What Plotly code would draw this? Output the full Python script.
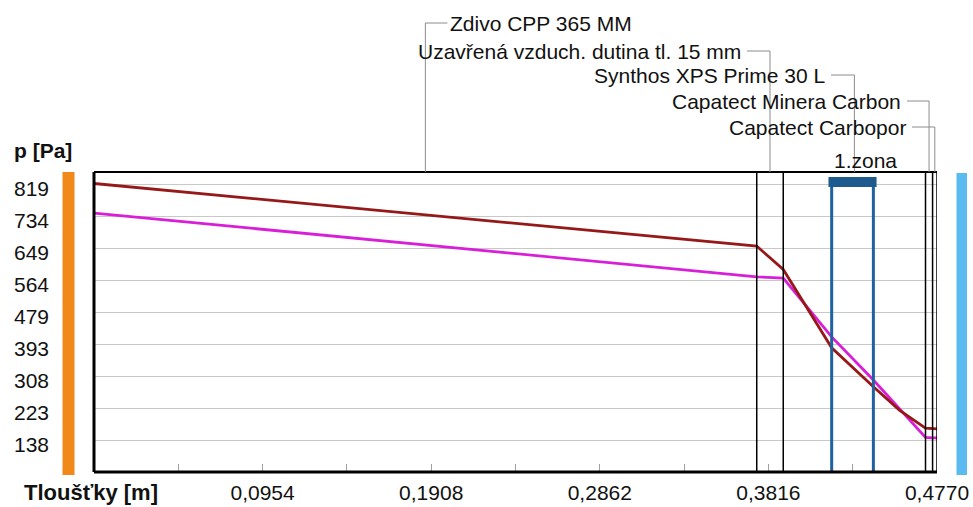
import plotly.graph_objects as go

# ---------------- data ----------------
layer_names = ["Zdivo CPP 365 MM", "Uzavřená vzduch. dutina tl. 15 mm",
               "Synthos XPS Prime 30 L", "Capatect Minera Carbon", "Capatect Carbopor"]
layer_bounds = [0.0, 0.375, 0.390, 0.4705, 0.4745, 0.477]   # m
zone_bounds = [0.4174, 0.4410]
zone_name = "1.zona"

red_x = [0.0, 0.375, 0.390, 0.4174, 0.4410, 0.4557, 0.4705, 0.4745, 0.477]
red_p = [823, 656, 594, 385, 281, 219, 171, 170, 169]          # Pa
mag_x = [0.0, 0.375, 0.390, 0.4174, 0.4410, 0.4705, 0.4745, 0.477]
mag_p = [744, 574, 571, 414, 299, 146, 145, 145]              # Pa

y_ticks = [138, 223, 308, 393, 479, 564, 649, 734, 819]
x_ticks = [0.0477, 0.0954, 0.1431, 0.1908, 0.2385, 0.2862, 0.3339, 0.3816, 0.4293, 0.4770]
x_labels = ["", "0,0954", "", "0,1908", "", "0,2862", "", "0,3816", "", "0,4770"]

# ---------------- geometry (page pixels) ----------------
W, H = 973, 507
L, R, T, B = 94, 937, 172, 472          # plot frame in page pixels
def px(x):
    return (x - L) / (R - L)
def py(y):
    return (B - y) / (B - T)

FONT = "Liberation Sans, Arial, sans-serif"

fig = go.Figure()
fig.add_trace(go.Scatter(x=mag_x, y=mag_p, mode="lines",
                         line=dict(color="#D81ED8", width=2.8), hoverinfo="skip"))
fig.add_trace(go.Scatter(x=red_x, y=red_p, mode="lines",
                         line=dict(color="#961818", width=2.8), hoverinfo="skip"))

shapes = []
# layer boundary lines
for xb in layer_bounds[1:]:
    shapes.append(dict(type="line", xref="x", yref="paper", x0=xb, x1=xb, y0=0, y1=1,
                       line=dict(color="black", width=1.5)))
# zone lines + bar
for xb in zone_bounds:
    shapes.append(dict(type="line", xref="x", yref="paper", x0=xb, x1=xb, y0=0, y1=py(182),
                       line=dict(color="#1E62A0", width=3)))
shapes.append(dict(type="rect", xref="x", yref="paper",
                   x0=zone_bounds[0] - 0.0018, x1=zone_bounds[1] + 0.0018,
                   y0=py(187), y1=py(177), fillcolor="#1D5A8E", line=dict(width=0)))
# frame
shapes.append(dict(type="line", xref="paper", yref="paper", x0=0, x1=1, y0=1, y1=1,
                   line=dict(color="black", width=2)))
shapes.append(dict(type="line", xref="paper", yref="paper", x0=0, x1=1, y0=0, y1=0,
                   line=dict(color="black", width=3)))
shapes.append(dict(type="line", xref="paper", yref="paper", x0=0, x1=0, y0=0, y1=1,
                   line=dict(color="black", width=3)))
# side bars
shapes.append(dict(type="rect", xref="paper", yref="paper", x0=px(62.5), x1=px(74.5),
                   y0=py(475), y1=py(172), fillcolor="#F0881A", line=dict(width=0)))
shapes.append(dict(type="rect", xref="paper", yref="paper", x0=px(956.5), x1=px(967),
                   y0=py(475), y1=py(173), fillcolor="#5BBAF0", line=dict(width=0)))

annotations = []
# layer labels with leader lines
label_y = [23, 51, 75, 101, 127]
label_right = [None, 743, 827, 903, 908]
for i, name in enumerate(layer_names):
    xc = (layer_bounds[i] + layer_bounds[i + 1]) / 2
    xc_px = L + xc / 0.477 * (R - L)
    yy = label_y[i]
    shapes.append(dict(type="line", xref="x", yref="paper", x0=xc, x1=xc, y0=1, y1=py(yy),
                       line=dict(color="#8C8C8C", width=1)))
    if i == 0:
        shapes.append(dict(type="line", xref="paper", yref="paper", x0=px(xc_px), x1=px(xc_px + 22),
                           y0=py(yy), y1=py(yy), line=dict(color="#8C8C8C", width=1)))
        annotations.append(dict(text=name, xref="paper", yref="paper", x=px(xc_px + 23), y=py(yy),
                                xanchor="left", yanchor="middle", showarrow=False,
                                font=dict(family=FONT, size=21, color="#111")))
    else:
        xr = label_right[i]
        shapes.append(dict(type="line", xref="paper", yref="paper", x0=px(xr + 4), x1=px(xc_px),
                           y0=py(yy), y1=py(yy), line=dict(color="#8C8C8C", width=1)))
        annotations.append(dict(text=name, xref="paper", yref="paper", x=px(xr), y=py(yy),
                                xanchor="right", yanchor="middle", showarrow=False,
                                font=dict(family=FONT, size=21, color="#111")))

annotations.append(dict(text=zone_name, xref="paper", yref="paper", x=px(832), y=py(160),
                        xanchor="left", yanchor="middle", showarrow=False,
                        font=dict(family=FONT, size=21, color="#111")))
annotations.append(dict(text="<b>p [Pa]</b>", xref="paper", yref="paper", x=px(12), y=py(150),
                        xanchor="left", yanchor="middle", showarrow=False,
                        font=dict(family=FONT, size=21, color="#111")))
annotations.append(dict(text="<b>Tloušťky [m]</b>", xref="paper", yref="paper", x=px(22), y=py(492),
                        xanchor="left", yanchor="middle", showarrow=False,
                        font=dict(family=FONT, size=22, color="#111")))

fig.update_layout(
    width=W, height=H,
    margin=dict(l=L, r=W - R, t=T, b=H - B, pad=0, autoexpand=False),
    paper_bgcolor="white", plot_bgcolor="white",
    showlegend=False,
    shapes=shapes, annotations=annotations,
    xaxis=dict(range=[0, 0.477], tickvals=x_ticks, ticktext=x_labels,
               ticks="inside", ticklen=8, tickcolor="#A0A0A0", tickwidth=1,
               showgrid=False, zeroline=False, showline=False, automargin=False,
               tickfont=dict(family=FONT, size=21, color="#111"),
               ticklabelstandoff=6),
    yaxis=dict(range=[54, 853.6], tickvals=y_ticks, ticktext=[str(v) for v in y_ticks],
               ticks="", showgrid=True, gridcolor="#C8C8C8", gridwidth=1,
               zeroline=False, showline=False, automargin=False,
               tickfont=dict(family=FONT, size=21, color="#111"),
               ticklabelstandoff=44, ticklabelshift=4),
)

fig.write_html("out.html",
               config={"displayModeBar": False},
               post_script="document.body.style.margin='0';document.body.style.overflow='hidden';")
